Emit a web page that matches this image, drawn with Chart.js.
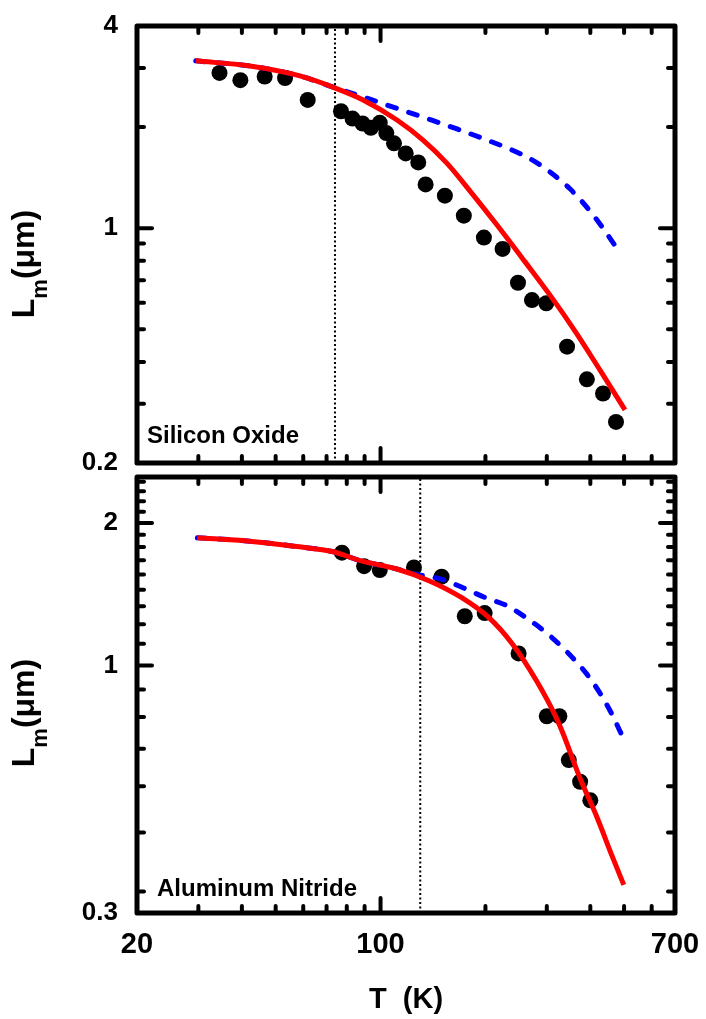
<!DOCTYPE html>
<html>
<head>
<meta charset="utf-8">
<script src="https://cdn.jsdelivr.net/npm/chart.js@4.4.1/dist/chart.umd.min.js"></script>
<style>
  body { margin: 0; background: #fff; }
  #wrap { position: relative; width: 706px; height: 1019px; overflow: hidden; }
  canvas { position: absolute; left: 0; }
  .panel { position: absolute; font: bold 24px "Liberation Sans", Arial, sans-serif; line-height: 24px; white-space: nowrap; color: #000; }
  .ytitle { position: absolute; width: 140px; height: 40px; line-height: 40px; text-align: center; white-space: nowrap;
    font: bold 32px "Liberation Sans", Arial, sans-serif; color: #000; transform: rotate(-90deg); }
  .ytitle sub { font-size: 22px; vertical-align: -13px; line-height: 0; }
</style>
</head>
<body>
<div id="wrap">
  <canvas id="chartTop" width="706" height="490" style="top:0"></canvas>
  <canvas id="chartBottom" width="706" height="549" style="top:470px"></canvas>
  <div class="ytitle" style="left:-45px; top:244px">L<sub>m</sub>(μm)</div>
  <div class="ytitle" style="left:-45px; top:693px">L<sub>m</sub>(μm)</div>
  <div class="panel" style="left:147px; top:423px">Silicon Oxide</div>
  <div class="panel" style="left:157px; top:876px">Aluminum Nitride</div>
</div>
<script>
// axis ticks
const xLabels = [20, 100, 700]
const xMajor = [100]
const xMinor = [30, 40, 50, 60, 70, 80, 90, 200, 300, 400, 500, 600]

const topLabels = [0.2, 1, 4]
const topMajor = [1]
const topMinor = [0.3, 0.4, 0.5, 0.6, 0.7, 0.8, 0.9, 2, 3]

const botLabels = [0.3, 1, 2]
const botMajor = [1, 2]
const botMinor = [0.333, 0.444, 0.556, 0.667, 0.778, 0.889, 1.111, 1.222, 1.333, 1.444, 1.556, 1.667, 1.778, 1.889, 2.111, 2.222, 2.333, 2.444]

// Silicon Oxide
const soxT = [34.5, 39.6, 46.5, 53.2, 61.8, 77.0, 83.1, 88.8, 93.8, 99.5, 103.9, 109.3, 118.1, 128.3, 134.7, 153, 173.4, 198, 224, 248, 272, 299, 343, 391, 435, 474]
const soxL = [2.90, 2.76, 2.83, 2.80, 2.41, 2.23, 2.12, 2.05, 1.99, 2.06, 1.92, 1.79, 1.67, 1.57, 1.35, 1.25, 1.09, 0.938, 0.868, 0.688, 0.611, 0.598, 0.444, 0.355, 0.322, 0.265]
const soxFitT = [29.5, 42.2, 58.7, 73.0, 89.1, 111.5, 132.4, 155.2, 180.7, 215.9, 259.9, 306.5, 361.5, 426.5, 503]
const soxFitL = [3.15, 3.04, 2.84, 2.63, 2.41, 2.10, 1.83, 1.56, 1.29, 1.022, 0.794, 0.632, 0.494, 0.378, 0.288]
const soxDashT = [29.5, 42.2, 58.7, 71.6, 89.1, 106.5, 134.2, 165.8, 202.1, 235.3, 268.6, 306.5, 349.7, 399.2, 440.8, 486.8]
const soxDashL = [3.15, 3.04, 2.84, 2.65, 2.46, 2.31, 2.13, 1.975, 1.83, 1.72, 1.61, 1.47, 1.31, 1.125, 0.981, 0.844]
const soxCutT = 74

// Aluminum Nitride
const alnT = [77.5, 89.7, 99.5, 124.7, 149.7, 174.5, 199, 249, 300, 326, 347, 374, 400]
const alnL = [1.73, 1.62, 1.59, 1.61, 1.54, 1.27, 1.29, 1.06, 0.781, 0.781, 0.631, 0.568, 0.519]
const alnFitT = [29.8, 42.1, 58.5, 72.7, 88.6, 110.8, 137.7, 171, 205, 239, 280, 320, 334, 373, 418, 463, 499]
const alnFitL = [1.86, 1.83, 1.78, 1.74, 1.66, 1.60, 1.51, 1.39, 1.26, 1.11, 0.929, 0.773, 0.718, 0.580, 0.478, 0.394, 0.344]
const alnDashT = [29.8, 42.1, 58.5, 72.7, 88.6, 110.8, 125, 150, 175.7, 200, 229, 262, 300, 342, 390, 425, 460, 496]
const alnDashL = [1.86, 1.83, 1.78, 1.74, 1.66, 1.60, 1.56, 1.52, 1.45, 1.39, 1.34, 1.26, 1.17, 1.07, 0.961, 0.877, 0.792, 0.705]
const alnCutT = 130

const FONT = '"Liberation Sans", Arial, sans-serif'

function pairs(xs, ys) {
  return xs.map((v, i) => ({ x: v, y: ys[i] }))
}

// frame + inward tick marks on all four sides
const frameTicks = {
  id: 'frameTicks',
  afterDatasetsDraw(chart, args, opts) {
    const ctx = chart.ctx
    const a = chart.chartArea
    const x = chart.scales.x
    const y = chart.scales.y
    ctx.save()
    ctx.strokeStyle = '#000'
    ctx.lineCap = 'round'
    ctx.lineWidth = 4
    function line(x1, y1, x2, y2) {
      ctx.beginPath()
      ctx.moveTo(x1, y1)
      ctx.lineTo(x2, y2)
      ctx.stroke()
    }
    function xTicks(list, len) {
      list.forEach(v => {
        const p = x.getPixelForValue(v)
        line(p, a.bottom, p, a.bottom - len)
        line(p, a.top, p, a.top + len)
      })
    }
    function yTicks(list, len) {
      list.forEach(v => {
        const p = y.getPixelForValue(v)
        line(a.left, p, a.left + len, p)
        line(a.right, p, a.right - len, p)
      })
    }
    xTicks(xMinor, 7)
    xTicks(xMajor, 15)
    yTicks(opts.yMinor, 7)
    yTicks(opts.yMajor, 15)
    ctx.lineCap = 'butt'
    ctx.lineJoin = 'round'
    ctx.lineWidth = 5
    ctx.strokeRect(a.left, a.top, a.right - a.left, a.bottom - a.top)
    ctx.restore()
  }
}

// keep label overflow from pushing the plot area in
function noPadding(s) {
  s.paddingLeft = 0
  s.paddingRight = 0
  s.paddingTop = 0
  s.paddingBottom = 0
}

function makeDatasets(ptsT, ptsL, fitT, fitL, dashT, dashL, cutT, yMin, yMax) {
  return [
    {
      data: pairs(fitT, fitL), showLine: true, borderColor: '#ff0000', borderWidth: 5,
      pointRadius: 0, cubicInterpolationMode: 'monotone', order: 0
    },
    {
      data: pairs(dashT, dashL), showLine: true, borderColor: '#0000ff', borderWidth: 5,
      borderDash: [9, 13], borderCapStyle: 'round', pointRadius: 0, cubicInterpolationMode: 'monotone', order: 1
    },
    {
      data: pairs(ptsT, ptsL), pointRadius: 8, pointBackgroundColor: '#000', pointBorderWidth: 0, order: 2
    },
    {
      data: [{ x: cutT, y: yMin }, { x: cutT, y: yMax }], showLine: true, borderColor: '#000', borderWidth: 2,
      borderDash: [2, 2.5], pointRadius: 0, order: 3
    }
  ]
}

function makeChart(id, cfg) {
  return new Chart(document.getElementById(id), {
    type: 'scatter',
    data: { datasets: makeDatasets(cfg.pt, cfg.pl, cfg.ft, cfg.fl, cfg.dt, cfg.dl, cfg.cut, cfg.yMin, cfg.yMax) },
    plugins: [frameTicks],
    options: {
      responsive: false,
      animation: false,
      layout: { padding: cfg.padding, autoPadding: false },
      plugins: {
        legend: { display: false },
        tooltip: { enabled: false },
        frameTicks: { yMajor: cfg.yMajor, yMinor: cfg.yMinor }
      },
      scales: {
        x: {
          type: 'logarithmic', min: 20, max: 700,
          grid: { display: false, drawTicks: false },
          border: { display: false },
          afterBuildTicks: s => { s.ticks = xLabels.map(v => ({ value: v })) },
          afterFit: s => { s.height = cfg.xHeight; noPadding(s) },
          ticks: {
            display: cfg.showX, padding: 15, color: '#000', maxRotation: 0, autoSkip: false,
            font: { family: FONT, size: 29, weight: 'bold' },
            callback: v => String(v)
          },
          title: {
            display: cfg.showX, text: 'T  (K)', color: '#000', padding: { top: 0, bottom: 2 },
            font: { family: FONT, size: 29, weight: 'bold' }
          }
        },
        y: {
          type: 'logarithmic', min: cfg.yMin, max: cfg.yMax,
          grid: { display: false, drawTicks: false },
          border: { display: false },
          afterBuildTicks: s => { s.ticks = cfg.yLabels.map(v => ({ value: v })) },
          afterFit: s => { s.width = 137; noPadding(s) },
          ticks: {
            padding: 19, color: '#000', autoSkip: false,
            font: { family: FONT, size: 26, weight: 'bold' },
            callback: v => String(v)
          }
        }
      }
    }
  })
}

makeChart('chartTop', {
  pt: soxT, pl: soxL, ft: soxFitT, fl: soxFitL, dt: soxDashT, dl: soxDashL, cut: soxCutT,
  yMin: 0.2, yMax: 4, yLabels: topLabels, yMajor: topMajor, yMinor: topMinor,
  padding: { left: 0, right: 31, top: 26, bottom: 27 }, xHeight: 0, showX: false
})

makeChart('chartBottom', {
  pt: alnT, pl: alnL, ft: alnFitT, fl: alnFitL, dt: alnDashT, dl: alnDashL, cut: alnCutT,
  yMin: 0.3, yMax: 2.5, yLabels: botLabels, yMajor: botMajor, yMinor: botMinor,
  padding: { left: 0, right: 31, top: 7, bottom: 0 }, xHeight: 106, showX: true
})
</script>
</body>
</html>
